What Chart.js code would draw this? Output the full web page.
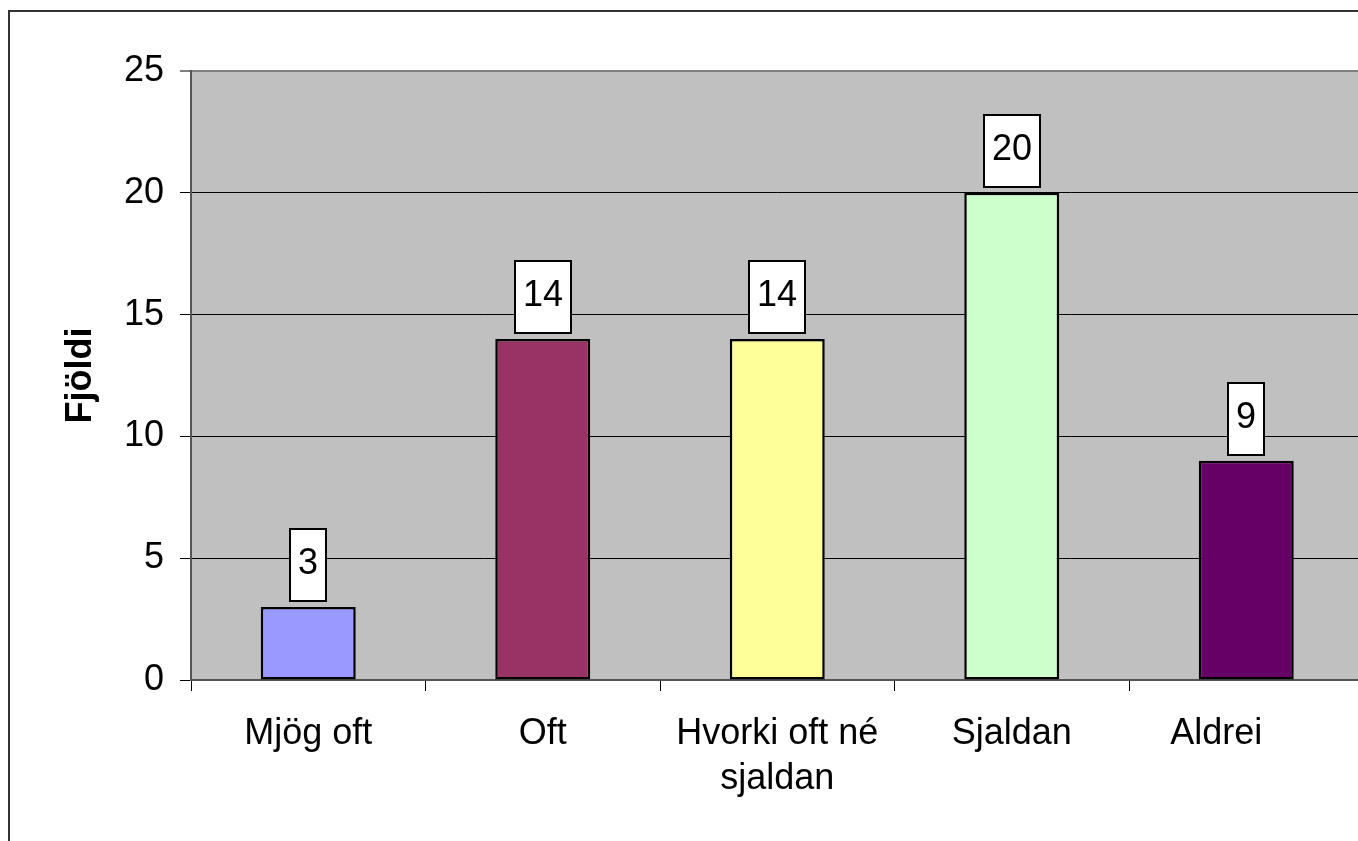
<!DOCTYPE html>
<html>
<head>
<meta charset="utf-8">
<script src="https://cdn.jsdelivr.net/npm/chart.js@4"></script>
<style>
  html, body { margin: 0; padding: 0; overflow: hidden; background: #fff; }
  #wrap { width: 1380px; height: 841px; position: relative; }
</style>
</head>
<body>
<div id="wrap"><canvas id="barChart"></canvas></div>
<script>
// Data
const categories = ['Mjög oft', 'Oft', ['Hvorki oft né', 'sjaldan'], 'Sjaldan', 'Aldrei'];
const counts = [3, 14, 14, 20, 9];
const barColors = ['#9999FF', '#993366', '#FFFF99', '#CCFFCC', '#660066'];
const yTicks = [0, 5, 10, 15, 20, 25];

const FONT = "'Liberation Sans', Arial, sans-serif";

// white page, outer frame and grey plot area
const backgroundPlugin = {
  id: 'background',
  beforeDraw(chart) {
    const { ctx, chartArea: a } = chart;
    ctx.save();
    ctx.fillStyle = '#ffffff';
    ctx.fillRect(0, 0, chart.width, chart.height);
    ctx.strokeStyle = '#333333';
    ctx.lineWidth = 2;
    ctx.strokeRect(9, 11, chart.width + 20, chart.height + 20);
    ctx.fillStyle = '#C0C0C0';
    ctx.fillRect(a.left, a.top, a.right - a.left, a.bottom - a.top);
    ctx.restore();
  }
};

// boxed value labels above bars
const valueBoxPlugin = {
  id: 'valueBox',
  afterDatasetsDraw(chart) {
    const { ctx } = chart;
    const meta = chart.getDatasetMeta(0);
    ctx.save();
    ctx.font = '36px ' + FONT;
    meta.data.forEach((bar, i) => {
      const txt = String(counts[i]);
      const w = Math.round(ctx.measureText(txt).width + 16);
      const h = 72;
      const bottom = Math.round(bar.y - 6);
      const left = Math.round(bar.x - w / 2);
      ctx.fillStyle = '#ffffff';
      ctx.fillRect(left, bottom - h, w, h);
      ctx.strokeStyle = '#000000';
      ctx.lineWidth = 2;
      ctx.strokeRect(left, bottom - h, w, h);
      ctx.fillStyle = '#000000';
      ctx.textAlign = 'center';
      ctx.textBaseline = 'alphabetic';
      ctx.fillText(txt, left + w / 2, bottom - 27);
    });
    ctx.restore();
  }
};

const ctx = document.getElementById('barChart').getContext('2d');
new Chart(ctx, {
  type: 'bar',
  data: {
    labels: categories,
    datasets: [{
      data: counts,
      backgroundColor: barColors,
      borderColor: '#000000',
      borderWidth: 2.5,
      borderSkipped: false,
      barPercentage: 0.405,
      categoryPercentage: 1
    }]
  },
  options: {
    responsive: true,
    maintainAspectRatio: false,
    animation: false,
    devicePixelRatio: 1,
    layout: { padding: { top: 71, right: 16.5, bottom: 0, left: 0 } },
    plugins: {
      legend: { display: false },
      tooltip: { enabled: false }
    },
    scales: {
      x: {
        grid: {
          offset: true,
          drawOnChartArea: false,
          drawTicks: true,
          tickLength: 11,
          color: '#000000',
          tickColor: '#000000'
        },
        border: { color: '#555555', width: 2 },
        ticks: {
          color: '#000000',
          padding: 21,
          font: { family: FONT, size: 36, lineHeight: 1.25 },
          maxRotation: 0,
          autoSkip: false,
          // last label sits a bit left of its bar in the original (clipped edge)
          callback(value, index) {
            const lbl = categories[index];
            return index === categories.length - 1 ? lbl + '\u00a0'.repeat(6) : lbl;
          }
        },
        afterFit(scale) { scale.height = 161; }
      },
      y: {
        min: yTicks[0],
        max: yTicks[yTicks.length - 1],
        afterBuildTicks(scale) { scale.ticks = yTicks.map(v => ({ value: v })); },
        grid: {
          color: c => c.tick && c.tick.value === 25 ? '#808080' : '#000000',
          lineWidth: c => c.tick && c.tick.value === 25 ? 2 : 1,
          drawTicks: true,
          tickLength: 11,
          tickColor: '#000000',
          tickWidth: 1
        },
        border: { color: '#555555', width: 2 },
        ticks: {
          color: '#000000',
          padding: 16,
          font: { family: FONT, size: 36 }
        },
        title: {
          display: true,
          text: 'Fjöldi',
          color: '#000000',
          font: { family: FONT, size: 36, weight: 'bold' },
          padding: { top: 59, bottom: 0 }
        },
        afterFit(scale) { scale.width = 191; }
      }
    }
  },
  plugins: [backgroundPlugin, valueBoxPlugin]
});
</script>
</body>
</html>
